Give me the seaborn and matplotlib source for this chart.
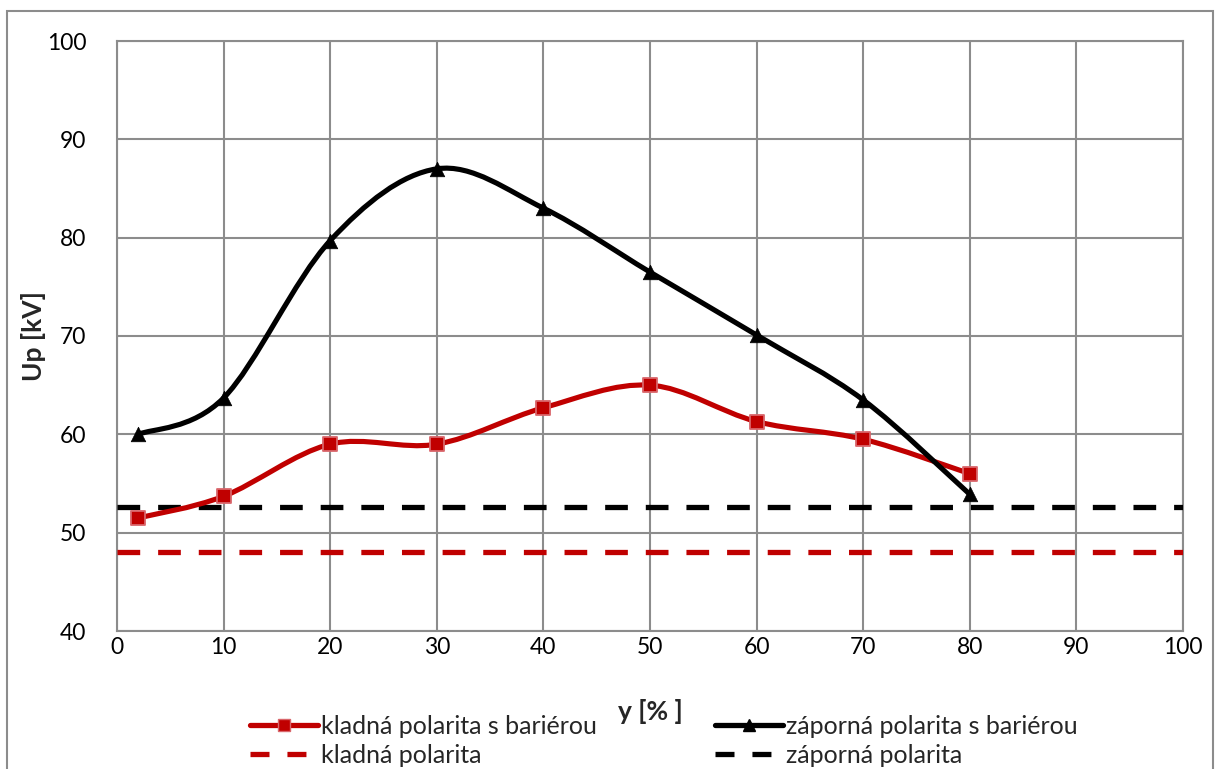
import numpy as np
import pandas as pd
import matplotlib
matplotlib.use("Agg")
import matplotlib.pyplot as plt
from matplotlib.path import Path
from matplotlib.patches import PathPatch, Rectangle
from matplotlib.lines import Line2D
import seaborn as sns

# --- data ---------------------------------------------------------------
y_pos = [2, 10, 20, 30, 40, 50, 60, 70, 80]
kladna_bariera = [51.5, 53.7, 59.0, 59.0, 62.7, 65.0, 61.3, 59.5, 56.0]
zaporna_bariera = [60.0, 63.7, 79.7, 87.0, 83.0, 76.5, 70.1, 63.5, 53.9]
kladna_ref = 48.0
zaporna_ref = 52.6
x_ticks = [0, 10, 20, 30, 40, 50, 60, 70, 80, 90, 100]
y_ticks = [40, 50, 60, 70, 80, 90, 100]

labels = ["kladná polarita s bariérou", "záporná polarita s bariérou",
          "kladná polarita", "záporná polarita"]

RED = "#C00000"
BLACK = "#000000"
GRID = "#8C8C8C"

sns.set_theme(style="white")
plt.rcParams["font.family"] = ["Lato", "DejaVu Sans"]

fig = plt.figure(figsize=(12.22, 7.69), dpi=100)
ax = fig.add_axes([117 / 1222, 1 - 631 / 769, (1183 - 117) / 1222, (631 - 41) / 769])


def smooth_path(xs, ys):
    """Cubic Bezier path through the points (Catmull-Rom style smoothing)."""
    pts = np.column_stack([xs, ys]).astype(float)
    n = len(pts)
    verts = [pts[0]]
    codes = [Path.MOVETO]
    for i in range(n - 1):
        p0 = pts[i - 1] if i > 0 else pts[i]
        p1 = pts[i]
        p2 = pts[i + 1]
        p3 = pts[i + 2] if i + 2 < n else pts[i + 1]
        c1 = p1 + (p2 - p0) / 6.0
        c2 = p2 - (p3 - p1) / 6.0
        verts += [c1, c2, p2]
        codes += [Path.CURVE4] * 3
    return Path(verts, codes)


# reference (dashed) levels across the full range
ref = pd.DataFrame({"x": [0, 100, 0, 100],
                    "Up": [kladna_ref, kladna_ref, zaporna_ref, zaporna_ref],
                    "s": ["k", "k", "z", "z"]})
dash = (4.3, 3.4)
LW_DASH = 3.8
sns.lineplot(data=ref[ref.s == "k"], x="x", y="Up", ax=ax, color=RED, lw=LW_DASH,
             legend=False, zorder=3).lines[-1].set_dashes(dash)
sns.lineplot(data=ref[ref.s == "z"], x="x", y="Up", ax=ax, color=BLACK, lw=LW_DASH,
             legend=False, zorder=3).lines[-1].set_dashes(dash)

# smoothed series curves
for vals, col in [(kladna_bariera, RED), (zaporna_bariera, BLACK)]:
    ax.add_patch(PathPatch(smooth_path(y_pos, vals), facecolor="none",
                           edgecolor=col, lw=3.7, zorder=4,
                           capstyle="round", joinstyle="round"))

# markers
pts = pd.DataFrame({"x": y_pos * 2,
                    "Up": kladna_bariera + zaporna_bariera,
                    "s": ["k"] * len(y_pos) + ["z"] * len(y_pos)})
sns.scatterplot(data=pts[pts.s == "k"], x="x", y="Up", ax=ax, marker="s", s=115,
                color=RED, edgecolor="#D9666B", linewidth=1.3, zorder=5, legend=False)
sns.scatterplot(data=pts[pts.s == "z"], x="x", y="Up", ax=ax, marker="^", s=110,
                color=BLACK, edgecolor=BLACK, linewidth=0.5, zorder=5, legend=False)

# axes styling
ax.set_xlim(0, 100)
ax.set_ylim(40, 100)
ax.set_xticks(x_ticks)
ax.set_yticks(y_ticks)
ax.grid(True, color=GRID, lw=1.5)
ax.set_axisbelow(True)
for sp in ax.spines.values():
    sp.set_color(GRID)
    sp.set_linewidth(1.5)
ax.tick_params(axis="both", length=0, labelsize=16.5, colors="black")
ax.tick_params(axis="x", pad=4)
ax.tick_params(axis="y", pad=22)
ax.set_xlabel("y [% ]", fontsize=19, fontweight="bold", labelpad=30)
ax.set_ylabel("Up [kV]", fontsize=19, fontweight="bold", labelpad=1)

# outer frame around the chart area
fig.patches.append(Rectangle((7 / 1222, -0.1), (1213 - 7) / 1222, 1.1 - 11 / 769,
                             transform=fig.transFigure, fill=False,
                             edgecolor=GRID, lw=1.5))

# legend in two columns
handles = [
    Line2D([], [], color=RED, lw=3.8, marker="s", markersize=9,
           markeredgecolor="#D9666B"),
    Line2D([], [], color=BLACK, lw=3.8, marker="^", markersize=9),
    Line2D([], [], color=RED, lw=LW_DASH, dashes=(3.6, 3.4)),
    Line2D([], [], color=BLACK, lw=LW_DASH, dashes=(3.6, 3.4)),
]
leg_kw = dict(frameon=False, fontsize=18, handlelength=2.7, handletextpad=0.15,
              labelspacing=0.24, borderpad=0, borderaxespad=0, loc="upper left")
leg1 = fig.legend([handles[0], handles[2]], [labels[0], labels[2]],
                  bbox_to_anchor=(250 / 1222, 1 - 715 / 769), **leg_kw)
leg2 = fig.legend([handles[1], handles[3]], [labels[1], labels[3]],
                  bbox_to_anchor=(715 / 1222, 1 - 715 / 769), **leg_kw)

fig.savefig("out.png", dpi=100, facecolor="white")
